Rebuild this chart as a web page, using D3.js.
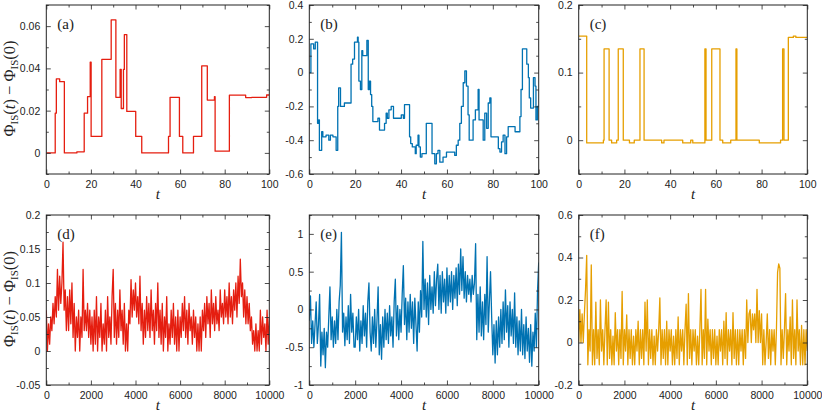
<!DOCTYPE html>
<html><head><meta charset="utf-8">
<script src="https://cdn.jsdelivr.net/npm/d3@7"></script>
<style>body{margin:0;background:#fff}svg{display:block}</style>
</head><body>
<svg id="c" width="822" height="414"></svg>
<script>
// ---------- DATA ----------
// Panel (a): change points of step function
const aT = [0,4.0,4.5,6.0,8.1,13.7,17.0,18.5,19.7,20.1,24.9,29.1,31.2,33.1,33.6,34.6,35.0,36.1,40.1,42.8,54.8,55.5,59.7,61.2,66.0,69.7,72.2,75.4,75.7,82.1,89.4,92.1,98.8,100];
const aV = [0,0.0188,0.035,0.0337,0,0.0005,0.0188,0.0266,0.043,0.0078,0.0443,0.063,0.0263,0.0395,0.021,0.0395,0.056,0.0196,0.0078,0,0.0078,0.0263,0.0078,0,0.0078,0.0412,0.025,0.0266,0.0008,0.0273,0.0262,0.0263,0.0274,0.0274];
// Panel (b)
const bT = [0,0.7,1.9,2.6,3.6,4.1,4.4,5.4,5.9,7.3,8.5,9.2,10.3,11.7,12.4,12.8,13.6,15.3,18.2,18.9,19.7,21.0,21.3,21.6,22.3,22.9,23.3,25.1,25.7,26.2,26.7,27.2,27.7,29.9,30.6,32.8,33.5,34.0,34.7,35.7,36.7,40.1,41.0,41.5,43.7,44.2,44.9,46.2,46.6,47.4,47.8,48.4,49.1,51.0,53.5,54.7,55.4,56.1,56.9,58.3,59.8,63.4,64.1,64.9,65.6,66.3,67.1,67.8,68.5,69.2,69.7,71.4,72.4,73.6,74.0,75.8,76.5,77.3,78.0,78.7,79.2,82.4,83.1,83.8,84.5,85.3,86.0,86.7,89.7,91.8,92.3,92.9,94.8,95.5,95.9,96.5,97.7,98.4,98.8,99.4,100];
const bV = [0.0,0.17,0.14,0.18,-0.3,-0.28,-0.46,-0.35,-0.38,-0.37,-0.4,-0.37,-0.38,-0.46,-0.2,-0.09,-0.2,-0.18,0.05,0.08,0.18,0.21,0.18,-0.05,-0.1,0.13,0.1,0.19,-0.1,-0.05,-0.13,-0.2,-0.29,-0.27,-0.34,-0.3,-0.24,-0.27,-0.22,-0.2,-0.27,-0.25,-0.27,-0.19,-0.38,-0.42,-0.44,-0.48,-0.43,-0.37,-0.44,-0.5,-0.48,-0.3,-0.48,-0.54,-0.48,-0.46,-0.53,-0.5,-0.47,-0.49,-0.43,-0.4,-0.3,-0.2,-0.06,0.01,-0.08,-0.25,-0.4,-0.28,-0.22,-0.1,-0.28,-0.4,-0.24,-0.33,-0.18,-0.15,-0.38,-0.45,-0.47,-0.41,-0.37,-0.48,-0.38,-0.32,-0.35,-0.26,-0.1,0.14,0.05,-0.03,-0.15,-0.21,-0.03,-0.08,-0.28,-0.2,-0.2];
// Panel (c)
const cT = [0,3.5,10.8,11.1,13.3,14.4,16.6,17.3,19.5,22.2,24.3,26.8,28.6,36.3,37.3,45.5,49.0,49.9,55.2,55.7,58.2,61.8,63.0,66.5,68.8,69.2,79.0,88.3,89.2,89.8,91.7,93.9,95.0,100];
const cV = [0.154,-0.004,0,0.135,0,-0.004,0,0.135,0,-0.004,0,0.135,0,-0.004,0,-0.004,0,-0.004,0.135,0,0.135,0,-0.004,0,0.135,0,-0.004,0,0.135,0,0.152,0.154,0.152,0.152];

// Long runs (t = 0, 50, ..., 10000)
const tLong = d3.range(0, 10001, 50);
const dV = [0.06,0.0,0.04,0.01,0.05,0.03,0.07,0.04,0.08,0.05,0.12,0.06,0.11,0.07,0.1,0.16,0.06,0.09,0.03,0.08,
 0.03,0.09,0.04,0.1,0.02,0.07,0.0,0.05,0.02,0.06,0.0,0.05,0.02,0.12,0.03,0.06,0.03,0.07,0.02,0.06,
 0.01,0.05,0.0,0.06,0.01,0.08,0.0,0.05,0.02,0.07,0.0,0.04,0.01,0.06,0.0,0.08,0.02,0.05,0.01,0.08,
 0.12,0.02,0.07,0.01,0.06,0.02,0.09,0.03,0.06,0.01,0.07,0.0,0.04,0.0,0.06,0.04,0.105,0.05,0.09,0.06,
 0.1,0.05,0.08,0.04,0.11,0.03,0.07,0.01,0.06,0.02,0.08,0.03,0.07,0.02,0.09,0.03,0.06,0.01,0.07,0.03,
 0.1,0.02,0.06,0.01,0.07,0.0,0.05,0.02,0.08,0.0,0.04,0.01,0.06,0.02,0.07,0.01,0.05,0.0,0.06,0.0,
 0.05,0.02,0.07,0.03,0.08,0.02,0.06,0.01,0.07,0.03,0.05,0.01,0.06,0.02,0.05,0.0,0.04,0.0,0.05,0.0,
 0.06,0.03,0.07,0.02,0.08,0.04,0.07,0.02,0.09,0.04,0.07,0.03,0.08,0.04,0.06,0.03,0.09,0.05,0.07,0.04,
 0.09,0.05,0.08,0.04,0.1,0.05,0.08,0.04,0.09,0.06,0.1,0.05,0.11,0.07,0.135,0.08,0.1,0.05,0.09,0.04,
 0.08,0.04,0.07,0.03,0.05,0.01,0.03,0.0,0.04,0.0,0.03,0.0,0.06,0.01,0.05,0.02,0.04,0.0,0.06,0.01,
 0.05];
const eV = [-0.15,0.18,-0.45,-0.15,-0.5,-0.2,0.1,-0.45,-0.2,0.2,-0.75,-0.3,-0.6,-0.25,-0.77,-0.3,-0.5,-0.1,0.3,-0.4,
 -0.1,-0.5,-0.15,-0.45,0.0,-0.4,0.1,0.32,1.02,-0.3,-0.05,-0.48,-0.1,-0.4,0.05,-0.45,0.2,-0.3,-0.05,-0.5,
 -0.5,-0.1,-0.4,0.0,-0.55,-0.15,-0.45,0.05,-0.35,-0.05,-0.5,0.1,0.35,-0.3,-0.55,-0.1,-0.45,0.0,-0.5,-0.15,
 0.3,-0.6,-0.2,-0.66,-0.1,-0.5,0.0,-0.4,-0.05,-0.45,0.05,-0.35,-0.1,-0.5,0.1,0.4,-0.35,0.05,-0.4,0.0,
 -0.3,0.2,0.58,-0.2,0.15,-0.4,0.1,-0.3,0.2,-0.25,0.1,-0.45,0.15,-0.2,-0.55,0.1,-0.3,0.25,-0.1,0.9,
 0.0,0.4,-0.1,0.35,-0.2,0.45,0.0,0.3,-0.05,0.5,0.05,0.4,0.6,0.0,0.45,-0.05,0.5,0.1,0.4,-0.05,
 0.55,0.05,0.45,0.1,0.5,0.0,0.45,0.15,0.55,0.05,0.6,0.2,0.8,0.25,0.7,0.15,0.5,0.1,0.45,0.2,
 0.4,0.1,0.45,0.2,0.35,0.87,-0.4,0.2,-0.3,0.3,-0.35,0.1,-0.4,0.2,-0.2,0.7,-0.3,0.1,0.5,-0.1,
 -0.6,-0.2,-0.71,-0.15,-0.6,-0.1,-0.5,0.0,-0.45,0.1,-0.4,0.26,-0.3,0.05,-0.5,0.1,-0.35,0.0,-0.45,0.22,
 -0.5,-0.1,-0.6,-0.15,-0.55,0.0,-0.6,-0.2,-0.65,-0.1,-0.55,-0.25,-0.7,-0.2,-0.75,-0.3,-0.55,-0.05,-0.5,0.25,
 0.62];
const fV = [0.0,0.155,0.0,0.135,0.0,0.135,0.25,0.41,-0.105,0.06,-0.04,0.365,-0.105,0.06,-0.105,0.19,-0.075,0.06,-0.105,0.2,
 -0.04,0.06,-0.105,0.06,0.2,-0.105,0.19,-0.075,0.06,-0.105,0.03,-0.105,0.14,-0.04,0.06,-0.105,0.06,-0.075,0.24,-0.105,
 0.06,-0.04,0.13,-0.105,0.06,-0.075,0.06,-0.105,0.03,-0.105,0.06,-0.04,0.1,-0.105,0.06,-0.075,0.06,-0.105,0.19,-0.04,
 0.2,-0.105,0.06,-0.075,0.06,-0.105,0.03,-0.105,0.06,-0.04,0.06,0.21,-0.105,0.06,-0.075,0.06,-0.105,0.1,-0.105,0.06,
 -0.04,0.06,-0.105,0.03,-0.105,0.06,-0.075,0.12,-0.105,0.06,-0.04,0.06,-0.105,0.06,0.18,-0.105,0.23,-0.075,0.06,-0.105,
 0.06,-0.04,0.06,-0.105,0.03,-0.105,0.06,0.25,-0.105,0.06,-0.075,0.25,-0.105,0.11,-0.04,0.06,-0.105,0.06,-0.075,0.06,
 -0.105,0.03,-0.105,0.06,-0.04,0.06,-0.105,0.1,-0.075,0.14,-0.105,0.06,-0.04,0.06,-0.105,0.14,-0.075,0.06,-0.105,0.06,
 -0.105,0.06,-0.04,0.06,-0.105,0.06,-0.075,0.2,0.0,0.135,0.155,0.0,0.135,0.06,0.135,0.0,0.25,0.0,0.15,0.0,
 0.135,-0.105,0.06,-0.105,0.0,0.135,-0.075,0.06,-0.105,0.06,-0.04,0.06,-0.105,0.06,0.33,0.37,0.35,-0.105,0.06,-0.075,
 0.06,0.23,-0.105,0.06,-0.04,0.12,-0.105,0.2,-0.075,0.06,-0.105,0.2,-0.04,0.06,-0.105,0.08,-0.105,0.06,-0.105,0.06,
 -0.04];

// ---------- LAYOUT ----------
const RED = "#e51e10", BLUE = "#0072b2", ORANGE = "#e69f00";
const colX = [[46.3,269.3],[309.3,538.7],[578.7,807.3]];
const rowY = [[5,174],[215,385]];
const xTop = [0,20,40,60,80,100], xTopMinor = 10;
const xBot = [0,2000,4000,6000,8000,10000], xBotMinor = 1000;

const panels = [
  {id:"a",c:0,r:0,t:aT,v:aV,step:true,color:RED,yd:[-0.01,0.07],yt:[0,0.02,0.04,0.06],ym:0.01,xd:[0,100],xt:xTop,xm:xTopMinor,sw:1.3},
  {id:"b",c:1,r:0,t:bT,v:bV,step:true,color:BLUE,yd:[-0.6,0.4],yt:[-0.6,-0.4,-0.2,0,0.2,0.4],ym:0.1,xd:[0,100],xt:xTop,xm:xTopMinor,sw:1.3},
  {id:"c",c:2,r:0,t:cT,v:cV,step:true,color:ORANGE,yd:[-0.05,0.2],yt:[0,0.1,0.2],ym:0.05,xd:[0,100],xt:xTop,xm:xTopMinor,sw:1.3},
  {id:"d",c:0,r:1,t:tLong,v:dV,step:false,color:RED,yd:[-0.05,0.2],yt:[-0.05,0,0.05,0.1,0.15,0.2],ym:0.025,xd:[0,10000],xt:xBot,xm:xBotMinor,sw:1.3},
  {id:"e",c:1,r:1,t:tLong,v:eV,step:false,color:BLUE,yd:[-1,1.25],yt:[-1,-0.5,0,0.5,1],ym:0.25,xd:[0,10000],xt:xBot,xm:xBotMinor,sw:1.3},
  {id:"f",c:2,r:1,t:tLong,v:fV,step:false,color:ORANGE,yd:[-0.2,0.6],yt:[-0.2,0,0.2,0.4,0.6],ym:0.1,xd:[0,10000],xt:xBot,xm:xBotMinor,sw:1.3}
];

const svg = d3.select("#c");
const defs = svg.append("defs");
const fmt = d => d === 0 ? "0" : String(+d.toFixed(4));
const tickFont = "'Liberation Sans', Arial, Helvetica, sans-serif";
const serif = "'Liberation Serif', 'DejaVu Serif', serif";

panels.forEach(p => {
  const [x0,x1] = colX[p.c], [y0,y1] = rowY[p.r];
  const x = d3.scaleLinear().domain(p.xd).range([x0,x1]);
  const y = d3.scaleLinear().domain(p.yd).range([y1,y0]);
  const g = svg.append("g");
  const cid = "clip-" + p.id;
  defs.append("clipPath").attr("id",cid).append("rect")
    .attr("x",x0).attr("y",y0).attr("width",x1-x0).attr("height",y1-y0);

  // data
  const line = d3.line().x(d=>x(d[0])).y(d=>y(d[1]));
  if (p.step) line.curve(d3.curveStepAfter);
  g.append("path").datum(d3.zip(p.t,p.v))
    .attr("clip-path",`url(#${cid})`)
    .attr("fill","none").attr("stroke",p.color)
    .attr("stroke-width",p.sw).attr("stroke-linejoin","round").attr("d",line);

  // tick positions
  const eps = 1e-9;
  const yAll = d3.range(Math.ceil(p.yd[0]/p.ym - eps), Math.floor(p.yd[1]/p.ym + eps)+1).map(k=>+(k*p.ym).toFixed(6));
  const xAll = d3.range(Math.ceil(p.xd[0]/p.xm - eps), Math.floor(p.xd[1]/p.xm + eps)+1).map(k=>k*p.xm);
  const isMajY = v => p.yt.some(t=>Math.abs(t-v)<1e-6);
  const xm = xAll.filter(v=>!p.xt.includes(v));
  const ymn = yAll.filter(v=>!isMajY(v));

  const style = sel => {
    sel.select(".domain").remove();
    sel.selectAll(".tick line").attr("stroke","#222").attr("stroke-width",0.8);
    sel.selectAll("text").attr("font-family",tickFont).attr("font-size","10.5px").attr("fill","#222");
  };
  // major + labels
  g.append("g").attr("transform",`translate(0,${y1})`)
    .call(d3.axisBottom(x).tickValues(p.xt).tickFormat(fmt).tickSizeInner(-4.5).tickSizeOuter(0).tickPadding(6.5)).call(style);
  g.append("g").attr("transform",`translate(${x0},0)`)
    .call(d3.axisLeft(y).tickValues(p.yt).tickFormat(fmt).tickSizeInner(-4.5).tickSizeOuter(0).tickPadding(6)).call(style);
  // mirror majors
  g.append("g").attr("transform",`translate(0,${y0})`)
    .call(d3.axisTop(x).tickValues(p.xt).tickFormat("").tickSizeInner(-4.5).tickSizeOuter(0)).call(style);
  g.append("g").attr("transform",`translate(${x1},0)`)
    .call(d3.axisRight(y).tickValues(p.yt).tickFormat("").tickSizeInner(-4.5).tickSizeOuter(0)).call(style);
  // minor ticks on all sides
  g.append("g").attr("transform",`translate(0,${y1})`).call(d3.axisBottom(x).tickValues(xm).tickFormat("").tickSizeInner(-2.5).tickSizeOuter(0)).call(style);
  g.append("g").attr("transform",`translate(0,${y0})`).call(d3.axisTop(x).tickValues(xm).tickFormat("").tickSizeInner(-2.5).tickSizeOuter(0)).call(style);
  g.append("g").attr("transform",`translate(${x0},0)`).call(d3.axisLeft(y).tickValues(ymn).tickFormat("").tickSizeInner(-2.5).tickSizeOuter(0)).call(style);
  g.append("g").attr("transform",`translate(${x1},0)`).call(d3.axisRight(y).tickValues(ymn).tickFormat("").tickSizeInner(-2.5).tickSizeOuter(0)).call(style);

  // frame
  g.append("rect").attr("x",x0).attr("y",y0).attr("width",x1-x0).attr("height",y1-y0)
    .attr("fill","none").attr("stroke","#222").attr("stroke-width",1);

  // panel letter
  g.append("text").attr("x",x0+11).attr("y",y0+24)
    .attr("font-family",serif).attr("font-size","15px").attr("fill","#222")
    .text(`(${p.id})`);

  // x label
  g.append("text").attr("x",(x0+x1)/2).attr("y",y1+24.5)
    .attr("text-anchor","middle").attr("font-family",serif).attr("font-style","italic")
    .attr("font-size","15px").attr("fill","#222").text("t");

  // y label (left column only)
  if (p.c === 0) {
    const yl = g.append("text")
      .attr("transform",`translate(15,${(y0+y1)/2 - 1}) rotate(-90)`)
      .attr("text-anchor","middle").attr("font-family",serif)
      .attr("font-size","16.5px").attr("fill","#222");
    yl.append("tspan").text("Φ");
    yl.append("tspan").attr("font-size","11px").attr("dy",3).text("IS");
    yl.append("tspan").attr("dy",-3).text("(");
    yl.append("tspan").attr("font-style","italic").text("t");
    yl.append("tspan").text(") − Φ");
    yl.append("tspan").attr("font-size","11px").attr("dy",3).text("IS");
    yl.append("tspan").attr("dy",-3).text("(0)");
  }
});
</script>
</body></html>
